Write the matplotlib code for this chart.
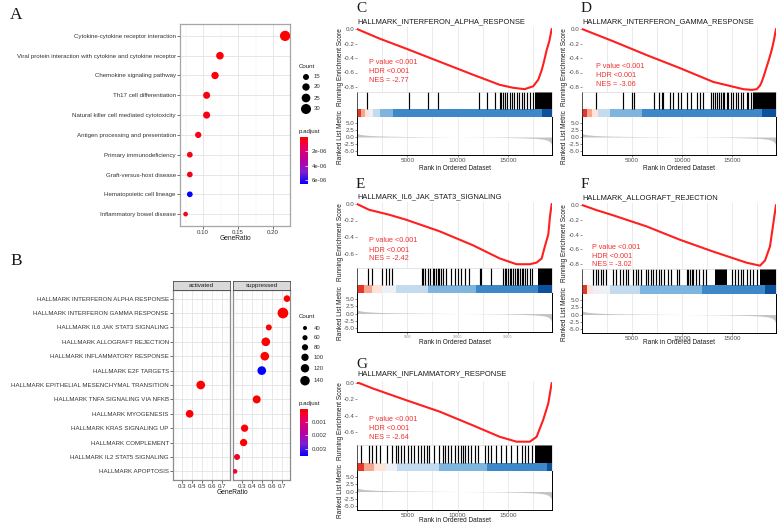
import numpy as np
import matplotlib
matplotlib.use("Agg")
import matplotlib.pyplot as plt
from matplotlib.colors import LinearSegmentedColormap, Normalize
from matplotlib.colorbar import ColorbarBase

plt.rcParams['font.family'] = ['Liberation Sans', 'DejaVu Sans']
plt.rcParams['axes.unicode_minus'] = False

W, H = 777, 523

# ---- A: KEGG enrichment dot plot
kegg_terms = ['Cytokine-cytokine receptor interaction',
              'Viral protein interaction with cytokine and cytokine receptor',
              'Chemokine signaling pathway',
              'Th17 cell differentiation',
              'Natural killer cell mediated cytotoxicity',
              'Antigen processing and presentation',
              'Primary immunodeficiency',
              'Graft-versus-host disease',
              'Hematopoietic cell lineage',
              'Inflammatory bowel disease']
kegg_ratio = [0.217, 0.124, 0.117, 0.105, 0.105, 0.093, 0.081, 0.081, 0.081, 0.075]
kegg_count = [31, 21, 20, 19, 19, 16, 14, 14, 14, 10]
kegg_padj = [7e-8, 1.5e-7, 2e-7, 3e-7, 3.5e-7, 4e-7, 3.5e-7, 4.5e-7, 6.5e-6, 6e-7]
kegg_count_breaks = [15, 20, 25, 30]
kegg_padj_ticks = [2e-6, 4e-6, 6e-6]
kegg_padj_labels = ['2e-06', '4e-06', '6e-06']

# ---- B: hallmark GSEA dot plot
hall_terms = ['HALLMARK INTERFERON ALPHA RESPONSE', 'HALLMARK INTERFERON GAMMA RESPONSE',
              'HALLMARK IL6 JAK STAT3 SIGNALING', 'HALLMARK ALLOGRAFT REJECTION',
              'HALLMARK INFLAMMATORY RESPONSE', 'HALLMARK E2F TARGETS',
              'HALLMARK EPITHELIAL MESENCHYMAL TRANSITION', 'HALLMARK TNFA SIGNALING VIA NFKB',
              'HALLMARK MYOGENESIS', 'HALLMARK KRAS SIGNALING UP', 'HALLMARK COMPLEMENT',
              'HALLMARK IL2 STAT5 SIGNALING', 'HALLMARK APOPTOSIS']
hall_group = ['suppressed'] * 6 + ['activated', 'suppressed', 'activated'] + ['suppressed'] * 4
hall_ratio = [0.75, 0.71, 0.57, 0.54, 0.53, 0.50, 0.49, 0.45, 0.38, 0.33, 0.32, 0.255, 0.235]
hall_count = [88, 162, 76, 125, 125, 125, 125, 113, 107, 100, 100, 76, 52]
hall_padj = [4e-5, 4e-5, 8e-5, 4e-5, 4e-5, 3.5e-3, 4e-5, 4e-5, 4e-5, 1e-4, 6e-5, 3e-4, 5e-4]
hall_count_breaks = [40, 60, 80, 100, 120, 140]
hall_padj_ticks = [0.001, 0.002, 0.003]
facets = ['activated', 'suppressed']

# ---- C-G: GSEA running score plots
N = 19400
metric_rank = [0, 200, 600, 1200, 2000, 3000, 4500, 6500, 9000, 12000, 14500, 16500,
               17800, 18600, 19000, 19250, 19400]
metric_val = [1.3, 1.0, 0.75, 0.55, 0.4, 0.3, 0.2, 0.12, 0.03, -0.05, -0.15, -0.3,
              -0.5, -0.8, -1.2, -1.9, -3.0]

c_title = 'HALLMARK_INTERFERON_ALPHA_RESPONSE'
c_es_rank = [0, 2200, 4870, 8200, 11530, 14200, 15500, 16670, 17530, 18030, 18370, 18600, 18870, 19130, 19370]
c_es = [0, -0.13, -0.27, -0.45, -0.63, -0.77, -0.81, -0.83, -0.79, -0.70, -0.57, -0.45, -0.29, -0.17, 0.0]
c_hits = [970, 5200, 7100, 8030, 12100, 12930, 13700, 14200, 14370, 14530, 14700, 14970, 15200,
          15430, 15630, 15870, 16100, 16370, 16630, 16870, 17200, 17530]
c_dense = [(17700, 19400)]
c_band_edges = [0, 400, 800, 1200, 1600, 2300, 3600, 18400, 19400]
c_band_level = [0, 1, 2, 3, 4, 5, 6, 7]
c_nes = -2.77

d_title = 'HALLMARK_INTERFERON_GAMMA_RESPONSE'
d_es_rank = [0, 3130, 6470, 9800, 13130, 16130, 17000, 17470, 17800, 17970, 18200, 18470, 18700, 18970, 19200, 19400]
d_es = [0, -0.17, -0.36, -0.54, -0.73, -0.83, -0.84, -0.83, -0.78, -0.73, -0.64, -0.52, -0.42, -0.29, -0.15, 0.0]
d_hits = [1400, 4070, 5030, 5230, 7230, 7700, 7970, 8130, 8800, 9070, 9570, 9870, 10470, 10900,
          11470, 11800, 12070, 12900, 13130, 13330, 13530, 13700, 13870, 14070, 14230, 14470,
          14630, 14870, 15130, 15400, 15630, 15900, 16130, 16470, 16630, 16870, 17070]
d_dense = [(17130, 19400)]
d_band_edges = [0, 500, 1000, 1630, 2800, 5970, 17970, 19400]
d_band_level = [0, 1, 2, 4, 5, 6, 7]
d_nes = -3.06

e_title = 'HALLMARK_IL6_JAK_STAT3_SIGNALING'
e_es_rank = [0, 1200, 3200, 4870, 8200, 11530, 14200, 15870, 17200, 17870, 18370, 18700, 19030, 19200, 19370]
e_es = [0, -0.07, -0.13, -0.19, -0.33, -0.50, -0.66, -0.73, -0.73, -0.71, -0.66, -0.51, -0.37, -0.15, 0.0]
e_hits = [1130, 1530, 2530, 2870, 3200, 3530, 6470, 6600, 6800, 7030, 7270, 7530, 7700, 7870,
          8030, 8200, 8370, 8530, 8870, 9370, 9700, 10030, 10370, 10700, 11130, 12200, 12370,
          13370, 14530, 14700, 14870, 15030, 15200, 15370, 15530, 15700, 15870, 16030, 16200,
          16370, 16530, 16700, 16870, 17200, 17370]
e_dense = [(18030, 19400)]
e_band_edges = [0, 700, 1530, 2530, 3870, 7030, 11870, 18030, 19400]
e_band_level = [0, 1, 2, 3, 4, 5, 6, 7]
e_nes = -2.42

f_title = 'HALLMARK_ALLOGRAFT_REJECTION'
f_es_rank = [0, 1470, 3130, 6470, 9800, 13130, 16470, 17800, 18300, 18800, 19130, 19400]
f_es = [0, -0.07, -0.14, -0.29, -0.47, -0.63, -0.78, -0.82, -0.75, -0.56, -0.25, 0.0]
f_hits = [1130, 1370, 1630, 1870, 2130, 2400, 3130, 3400, 3800, 4070, 4370, 4630, 5130, 5400,
          5630, 5900, 6370, 6630, 6870, 7130, 7400, 7670, 7930, 8200, 8630, 8870, 9470, 9730,
          10470, 10630, 10800, 10970, 11130, 11400, 11670, 12130, 12400, 14970, 15300, 15630,
          15900, 16130, 16470, 16800, 17130, 17470]
f_dense = [(13300, 14470), (17800, 19400)]
f_band_edges = [0, 500, 1100, 2800, 5800, 12000, 18300, 19400]
f_band_level = [0, 2, 3, 4, 5, 6, 7]
f_nes = -3.02

g_title = 'HALLMARK_INFLAMMATORY_RESPONSE'
g_es_rank = [0, 200, 1530, 4870, 8200, 11530, 14200, 15870, 17200, 17870, 18530, 19030, 19370]
g_es = [0, 0, -0.065, -0.21, -0.35, -0.52, -0.66, -0.72, -0.72, -0.66, -0.45, -0.25, 0.0]
g_hits = [370, 1200, 1530, 1870, 2300, 3030, 3530, 3870, 4030, 4370, 4700, 5030, 5370, 5700,
          6030, 6370, 6700, 6970, 7200, 7700, 8200, 8530, 8770, 9030, 9370, 9700, 10030, 10300,
          10530, 10770, 11030, 11370, 11700, 12030, 12700, 13030, 13370, 13870, 14370, 14870,
          15370, 15870, 16370, 16700, 17030, 17370]
g_dense = [(17700, 19400)]
g_band_edges = [0, 700, 1700, 2900, 4000, 8200, 12900, 18900, 19400]
g_band_level = [0, 1, 2, 3, 4, 5, 6, 7]
g_nes = -2.64

band_colors = ['#e3372a', '#f6a68e', '#fde3d8', '#eef0f8', '#c4daee', '#7db5de', '#3d88c8', '#0d519c']
cmap = LinearSegmentedColormap.from_list('padj', ['#ff0000', '#e4006a', '#b7009f', '#7d1fd0', '#0000ff'])

fig = plt.figure(figsize=(W / 100, H / 100), dpi=100)


def px_axes(l, t, r, b):
    return fig.add_axes([l / W, 1 - b / H, (r - l) / W, (b - t) / H])


def ftext(x, y, s, **kw):
    return fig.text(x / W, 1 - y / H, s, **kw)


def size_a(c):
    d = 2 + 0.2667 * np.asarray(c, dtype=float)
    return (d * 0.72) ** 2


def size_b(c):
    d = 4 + 0.055 * (np.asarray(c, dtype=float) - 40)
    return (d * 0.72) ** 2


def style_dot_axes(ax, border='#a6a6a6'):
    ax.grid(which='major', color='#e3e3e3', lw=0.6)
    ax.grid(which='minor', color='#f0f0f0', lw=0.35)
    ax.set_axisbelow(True)
    ax.tick_params(which='minor', length=0)
    ax.tick_params(which='major', labelsize=4.4, labelcolor='#333333', color='#333333',
                   length=2, width=0.5, pad=1)
    for sp in ax.spines.values():
        sp.set_color(border)
        sp.set_linewidth(0.9)


# ---------- panel A
normA = Normalize(7e-8, 6.55e-6)
axA = px_axes(180, 24, 290, 226)
yA = np.arange(1, len(kegg_terms) + 1)
axA.scatter(kegg_ratio, yA, s=size_a(kegg_count), c=kegg_padj, cmap=cmap, norm=normA,
            edgecolors='none', zorder=3)
axA.set_xlim(0.067, 0.224)
axA.set_ylim(len(kegg_terms) + 0.6, 0.4)
axA.set_yticks(yA)
axA.set_yticklabels(kegg_terms)
axA.set_xticks([0.10, 0.15, 0.20])
axA.set_xticklabels(['0.10', '0.15', '0.20'])
axA.set_xticks([0.075, 0.125, 0.175], minor=True)
style_dot_axes(axA)
ftext(235, 238, 'GeneRatio', ha='center', va='center', fontsize=4.8, color='#1a1a1a')

# ---------- panel B
normB = Normalize(3.7e-5, 3.52e-3)
yB = np.arange(1, len(hall_terms) + 1)
facet_box = {'activated': (173, 230), 'suppressed': (233, 290)}
for k, fac in enumerate(facets):
    l, r = facet_box[fac]
    ax = px_axes(l, 290, r, 480)
    idx = [i for i, g in enumerate(hall_group) if g == fac]
    ax.scatter([hall_ratio[i] for i in idx], [yB[i] for i in idx],
               s=size_b([hall_count[i] for i in idx]), c=[hall_padj[i] for i in idx],
               cmap=cmap, norm=normB, edgecolors='none', zorder=3)
    ax.set_xlim(0.215, 0.78)
    ax.set_ylim(len(hall_terms) + 0.6, 0.4)
    ax.set_yticks(yB)
    ax.set_yticklabels(hall_terms if k == 0 else [])
    ax.set_xticks([0.3, 0.4, 0.5, 0.6, 0.7])
    ax.set_xticklabels(['0.3', '0.4', '0.5', '0.6', '0.7'])
    ax.set_xticks([0.25, 0.35, 0.45, 0.55, 0.65, 0.75], minor=True)
    style_dot_axes(ax, border='#8c8c8c')
    if k == 1:
        ax.tick_params(axis='y', which='both', length=0)
    sax = px_axes(l, 281, r, 290)
    sax.set_facecolor('#d9d9d9')
    sax.set_xticks([])
    sax.set_yticks([])
    for sp in sax.spines.values():
        sp.set_color('#4d4d4d')
        sp.set_linewidth(0.6)
    sax.text(0.5, 0.5, fac, ha='center', va='center', fontsize=4.5, color='#1a1a1a',
             transform=sax.transAxes)
ftext(232, 493, 'GeneRatio', ha='center', va='center', fontsize=4.8, color='#1a1a1a')

# ---------- legends / colour bars for A and B
ov = fig.add_axes([0, 0, 1, 1])
ov.set_xlim(0, W)
ov.set_ylim(H, 0)
ov.axis('off')

ftext(299, 67, 'Count', fontsize=4.4, va='center', color='#1a1a1a')
legA_y = [77, 87, 98, 109]
ov.scatter([306] * len(kegg_count_breaks), legA_y, s=size_a(kegg_count_breaks), c='black',
           edgecolors='none')
for yy, b in zip(legA_y, kegg_count_breaks):
    ftext(314, yy, str(b), fontsize=4.3, va='center', color='#333333')

ftext(299, 317, 'Count', fontsize=4.4, va='center', color='#1a1a1a')
legB_y = [328, 337.7, 347.3, 357.3, 368.3, 380.7]
ov.scatter([305] * len(hall_count_breaks), legB_y, s=size_b(hall_count_breaks), c='black',
           edgecolors='none')
for yy, b in zip(legB_y, hall_count_breaks):
    ftext(314, yy, str(b), fontsize=4.3, va='center', color='#333333')


def padj_bar(t, b, norm, ticks, labels):
    ftext(299, t - 6, 'p.adjust', fontsize=4.4, va='center', color='#1a1a1a')
    cax = px_axes(300, t, 308, b)
    cb = ColorbarBase(cax, cmap=cmap, norm=norm, orientation='vertical')
    cax.invert_yaxis()
    cb.set_ticks(ticks)
    cb.set_ticklabels(labels)
    cb.outline.set_visible(False)
    cax.tick_params(axis='y', direction='in', length=2, width=0.5, color='white',
                    labelsize=4.3, labelcolor='#333333', pad=2.5)


padj_bar(137, 184, normA, kegg_padj_ticks, kegg_padj_labels)
padj_bar(409, 456, normB, hall_padj_ticks, ['0.001', '0.002', '0.003'])

# ---------- GSEA panels
layouts = {
    'C': dict(l=357, r=552, title_y=22, letter_y=11.5, es_top=27, zero=29, step=14.5, hit_top=92,
              band_top=109, band_bot=117, met_bot=155, xlabel_y=168, ann_x=369,
              ann_y=(62.7, 71.3, 80)),
    'D': dict(l=582, r=776, title_y=22, letter_y=11.5, es_top=27, zero=29, step=14.5, hit_top=92,
              band_top=109, band_bot=117, met_bot=155, xlabel_y=168, ann_x=596,
              ann_y=(66.7, 75.3, 84.3)),
    'E': dict(l=357, r=552, title_y=197, letter_y=188, es_top=202, zero=204, step=16.5, hit_top=268,
              band_top=285, band_bot=293, met_bot=332, xlabel_y=343, ann_x=369,
              ann_y=(240.7, 250, 259)),
    'F': dict(l=582, r=776, title_y=198, letter_y=188, es_top=203, zero=205, step=14.8, hit_top=269,
              band_top=285, band_bot=294, met_bot=333, xlabel_y=343, ann_x=592,
              ann_y=(247.3, 256, 265)),
    'G': dict(l=357, r=552, title_y=374, letter_y=368, es_top=381, zero=383, step=16.3, hit_top=445,
              band_top=463, band_bot=471, met_bot=510, xlabel_y=520, ann_x=369,
              ann_y=(419.3, 428.3, 437.3)),
}


def gsea_panel(key, title, es_rank, es_val, hits, dense, edges, levels, nes, es_ticks, tiny=False):
    lay = layouts[key]
    l, r = lay['l'], lay['r']
    z, st = lay['zero'], lay['step']
    es_hi = (z - lay['es_top']) / st * 0.2
    es_lo = -(lay['hit_top'] - z) / st * 0.2

    ax1 = px_axes(l, lay['es_top'], r, lay['hit_top'])
    ax1.plot(es_rank, es_val, color='#ff1f1f', lw=1.5, solid_capstyle='round', zorder=3)
    ax1.set_xlim(0, N)
    ax1.set_ylim(es_lo, es_hi)
    ax1.set_xticks([5000, 10000, 15000])
    ax1.set_xticks([2500, 7500, 12500, 17500], minor=True)
    ax1.grid(axis='x', which='both', color='#e8e8e8', lw=0.6)
    ax1.tick_params(axis='x', which='both', length=0, labelbottom=False)
    ax1.set_yticks(es_ticks)
    ax1.set_yticklabels([f'{v:.1f}' for v in es_ticks])
    ax1.tick_params(axis='y', labelsize=4.5, labelcolor='#4d4d4d', length=1.2, width=0.4,
                    color='#4d4d4d', pad=0.6)
    for sp in ax1.spines.values():
        sp.set_visible(False)

    ax2 = px_axes(l, lay['hit_top'], r, lay['band_bot'])
    frac = (lay['band_bot'] - lay['band_top']) / (lay['band_bot'] - lay['hit_top'])
    ax2.vlines(hits, frac, 1, color='black', lw=0.85)
    for s, e in dense:
        ax2.fill_between([s, e], frac, 1, color='black', lw=0)
    for i, lev in enumerate(levels):
        ax2.fill_between([edges[i], edges[i + 1]], 0, frac, color=band_colors[lev], lw=0)
    ax2.set_xlim(0, N)
    ax2.set_ylim(0, 1)
    ax2.set_xticks([])
    ax2.set_yticks([])
    for name, sp in ax2.spines.items():
        sp.set_color('#333333' if name == 'left' else '#d0d0d0')
        sp.set_linewidth(0.6 if name == 'left' else 0.4)
    ax2.spines['bottom'].set_visible(False)

    ax3 = px_axes(l, lay['band_bot'], r, lay['met_bot'])
    ax3.fill_between(metric_rank, metric_val, 0, color='#c4c4c4', lw=0)
    ax3.set_xlim(0, N)
    ax3.set_ylim(-6.3, 7.0)
    ax3.set_yticks([5.0, 2.5, 0.0, -2.5, -5.0])
    ax3.set_yticklabels(['5.0', '2.5', '0.0', '-2.5', '-5.0'])
    ax3.set_xticks([5000, 10000, 15000])
    ax3.set_xticks([2500, 7500, 12500, 17500], minor=True)
    ax3.grid(axis='x', which='both', color='#e8e8e8', lw=0.6)
    ax3.set_axisbelow(True)
    ax3.tick_params(axis='x', which='minor', length=0)
    ax3.tick_params(axis='both', which='major', labelsize=4.5, labelcolor='#4d4d4d',
                    length=1.2, width=0.4, color='#333333', pad=0.8)
    if tiny:
        ax3.tick_params(axis='x', labelsize=2.4, labelcolor='#8c8c8c')
    ax3.spines['top'].set_visible(False)
    for name in ('left', 'bottom', 'right'):
        ax3.spines[name].set_color('black')
        ax3.spines[name].set_linewidth(0.7)

    ftext(l - 1, lay['letter_y'], key, family=['Liberation Serif', 'DejaVu Serif'], fontsize=11,
          va='baseline', ha='left', color='#1a1a1a')
    ftext(l, lay['title_y'], title, fontsize=5.4, va='center', ha='left', color='#1a1a1a')
    ftext(l - 17, (lay['es_top'] + lay['band_top']) / 2 - 1, 'Running Enrichment Score',
          rotation=90, fontsize=4.7, ha='center', va='center', color='#1a1a1a')
    ftext(l - 17, (lay['band_bot'] + lay['met_bot']) / 2 + 1, 'Ranked List Metric',
          rotation=90, fontsize=4.7, ha='center', va='center', color='#1a1a1a')
    ftext((l + r) / 2, lay['xlabel_y'], 'Rank in Ordered Dataset', fontsize=4.7,
          ha='center', va='center', color='#1a1a1a')
    for k, line in enumerate(['P value <0.001', 'HDR <0.001', f'NES = {nes:.2f}']):
        ftext(lay['ann_x'], lay['ann_y'][k], line, color='#f23131', fontsize=5.2, va='center')


gsea_panel('C', c_title, c_es_rank, c_es, c_hits, c_dense, c_band_edges, c_band_level, c_nes,
           [0.0, -0.2, -0.4, -0.6, -0.8])
gsea_panel('D', d_title, d_es_rank, d_es, d_hits, d_dense, d_band_edges, d_band_level, d_nes,
           [0.0, -0.2, -0.4, -0.6, -0.8])
gsea_panel('E', e_title, e_es_rank, e_es, e_hits, e_dense, e_band_edges, e_band_level, e_nes,
           [0.0, -0.2, -0.4, -0.6], tiny=True)
gsea_panel('F', f_title, f_es_rank, f_es, f_hits, f_dense, f_band_edges, f_band_level, f_nes,
           [0.0, -0.2, -0.4, -0.6, -0.8])
gsea_panel('G', g_title, g_es_rank, g_es, g_hits, g_dense, g_band_edges, g_band_level, g_nes,
           [0.0, -0.2, -0.4, -0.6])

serif = ['Liberation Serif', 'DejaVu Serif']
ftext(10, 19, 'A', family=serif, fontsize=12.5, va='baseline', color='#1a1a1a')
ftext(10, 265, 'B', family=serif, fontsize=12.5, va='baseline', color='#1a1a1a')

fig.savefig('out.png', dpi=100)
